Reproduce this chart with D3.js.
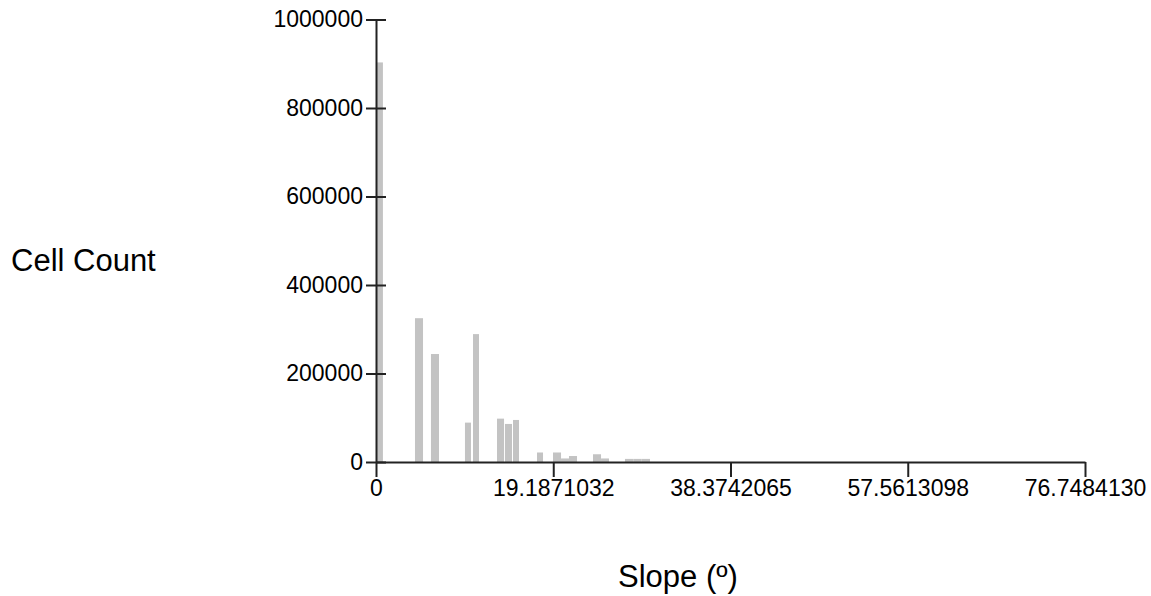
<!DOCTYPE html>
<html>
<head>
<meta charset="utf-8">
<script src="https://cdn.jsdelivr.net/npm/d3@7"></script>
<style>
  body { margin: 0; background: #fff; }
  text { font-family: Arial, "Liberation Sans", sans-serif; fill: #000; }
</style>
</head>
<body>
<div id="chart"></div>
<script>
// histogram bins, slope in degrees
var binStart = [0.1, 4.22, 5.95, 9.63, 10.50, 13.10, 13.96, 14.83, 17.43, 19.16, 20.03, 20.89, 23.49, 24.36, 26.95, 27.85, 28.76];
var binEnd   = [0.75, 5.09, 6.82, 10.28, 11.15, 13.86, 14.72, 15.48, 18.08, 20.03, 20.89, 21.76, 24.36, 25.22, 27.85, 28.76, 29.66];
var cellCount = [903000, 325000, 244000, 89000, 289000, 98000, 86000, 95000, 21500, 21500, 8000, 13500, 17500, 8000, 7000, 7000, 7000];

var xTicks = [0, 19.1871032, 38.3742065, 57.5613098, 76.7484130];
var xTickLabels = ["0", "19.1871032", "38.3742065", "57.5613098", "76.7484130"];
var yTicks = [0, 200000, 400000, 600000, 800000, 1000000];

var width = 1151, height = 596;

var svg = d3.select("#chart")
    .append("svg")
        .attr("width", width)
        .attr("height", height);

var x = d3.scaleLinear()
        .domain([0, 76.7484130])
        .range([376, 1085]);

var y = d3.scaleLinear()
        .domain([0, 1000000])
        .range([462, 19.5]);

var data = cellCount.map(function(d, i) {
        return {x0: binStart[i], x1: binEnd[i], count: d};
    });

svg.append("g")
    .attr("class", "bars")
  .selectAll("rect")
    .data(data)
  .enter().append("rect")
    .attr("x", function(d) { return x(d.x0); })
    .attr("width", function(d) { return x(d.x1) - x(d.x0); })
    .attr("y", function(d) { return y(d.count); })
    .attr("height", function(d) { return y(0) - y(d.count); })
    .attr("fill", "#c3c3c3");

// x axis
var xAxis = svg.append("g")
    .attr("transform", "translate(0," + y(0) + ")")
    .call(d3.axisBottom(x)
        .tickValues(xTicks)
        .tickFormat(function(d, i) { return xTickLabels[i]; })
        .tickSizeInner(15)
        .tickSizeOuter(0));

xAxis.select(".domain").attr("stroke", "#222").attr("stroke-width", 2);
xAxis.selectAll(".tick line").attr("stroke", "#222").attr("stroke-width", 2);
xAxis.selectAll(".tick text")
    .attr("y", 18)
    .attr("dy", "0.71em")
    .style("font-size", "23px");

// y axis, ticks cross the line
var yAxis = svg.append("g")
    .attr("transform", "translate(" + x(0) + ",0)")
    .call(d3.axisLeft(y)
        .tickValues(yTicks)
        .tickFormat(d3.format("d"))
        .tickSizeInner(10)
        .tickSizeOuter(0));

yAxis.select(".domain").attr("stroke", "#222").attr("stroke-width", 2);
yAxis.selectAll(".tick line")
    .attr("x1", 10)
    .attr("stroke", "#222")
    .attr("stroke-width", 2);
yAxis.selectAll(".tick text")
    .attr("x", -13)
    .style("font-size", "23px");

// axis titles
svg.append("text")
    .attr("x", 11)
    .attr("y", 271)
    .style("font-size", "31px")
    .text("Cell Count");

svg.append("text")
    .attr("x", 618)
    .attr("y", 587)
    .style("font-size", "31px")
    .text("Slope (º)");
</script>
</body>
</html>
